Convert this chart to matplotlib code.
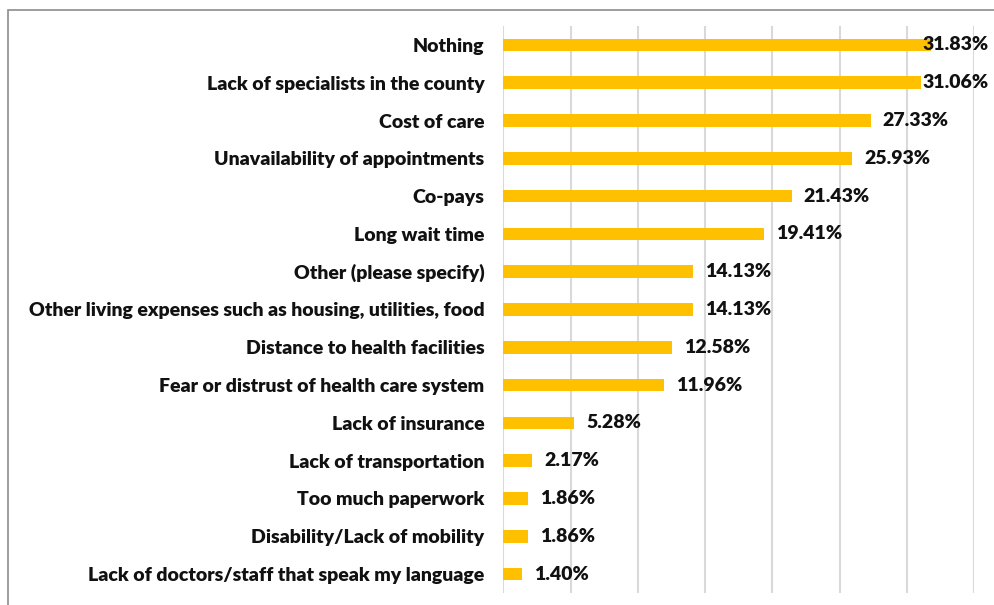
import matplotlib
matplotlib.use("Agg")
import matplotlib.pyplot as plt
from matplotlib.patches import Rectangle

categories = [
    "Nothing",
    "Lack of specialists in the county",
    "Cost of care",
    "Unavailability of appointments",
    "Co-pays",
    "Long wait time",
    "Other (please specify)",
    "Other living expenses such as housing, utilities, food",
    "Distance to health facilities",
    "Fear or distrust of health care system",
    "Lack of insurance",
    "Lack of transportation",
    "Too much paperwork",
    "Disability/Lack of mobility",
    "Lack of doctors/staff that speak my language",
]
values = [31.83, 31.06, 27.33, 25.93, 21.43, 19.41, 14.13, 14.13,
          12.58, 11.96, 5.28, 2.17, 1.86, 1.86, 1.40]
value_labels = ["31.83%", "31.06%", "27.33%", "25.93%", "21.43%", "19.41%",
                "14.13%", "14.13%", "12.58%", "11.96%", "5.28%", "2.17%",
                "1.86%", "1.86%", "1.40%"]
x_ticks = [0, 5, 10, 15, 20, 25, 30, 35]

W, H, DPI = 995, 605, 100
PT = 72 / DPI
FS = 14
WEIGHT = "heavy"
fig = plt.figure(figsize=(W / DPI, H / DPI), dpi=DPI)
fig.patch.set_facecolor("white")

# outer chart frame (top and left edges visible)
fig.add_artist(Rectangle((8 / W, -0.05), 1.2, 1 - 10 / H + 0.05,
                         transform=fig.transFigure, fill=False,
                         edgecolor="#8c8c8c", linewidth=1.2))

left, right = 503.3 / W, 974 / W
top, bottom = 1 - 26 / H, 1 - 593 / H
ax = fig.add_axes([left, bottom, right - left, top - bottom])

ypos = list(range(len(categories)))
ax.barh(ypos, values, height=0.335, color="#FFC000", zorder=3)
ax.set_xlim(0, 35)
ax.set_ylim(len(categories) - 0.5, -0.5)
ax.set_xticks(x_ticks)
ax.xaxis.grid(True, color="#D9D9D9", linewidth=1.5, zorder=0)
ax.tick_params(axis="x", length=0, labelbottom=False)
ax.tick_params(axis="y", length=0, pad=19 * PT)
ax.set_yticks(ypos)
ax.set_yticklabels(categories, fontfamily="Lato", fontweight=WEIGHT,
                   fontsize=FS, color="#111111")
for s in ax.spines.values():
    s.set_visible(False)

# data labels, kept inside the chart area on the right
px_per_unit = (974 - 503.3) / 35
limit_px = 989
label_w = 62
for y, v, t in zip(ypos, values, value_labels):
    end_px = 503.3 + v * px_per_unit
    if end_px + 12 + label_w > limit_px:
        ax.text((limit_px - 503.3) / (974 - 503.3), y, t,
                transform=ax.get_yaxis_transform(), ha="right", va="center",
                fontfamily="Lato", fontweight=WEIGHT, fontsize=FS,
                color="#111111", zorder=4, clip_on=False)
    else:
        ax.annotate(t, (v, y), xytext=(12 * PT, 0),
                    textcoords="offset points", ha="left", va="center",
                    fontfamily="Lato", fontweight=WEIGHT, fontsize=FS,
                    color="#111111", zorder=4)

fig.savefig("out.png", dpi=DPI)
